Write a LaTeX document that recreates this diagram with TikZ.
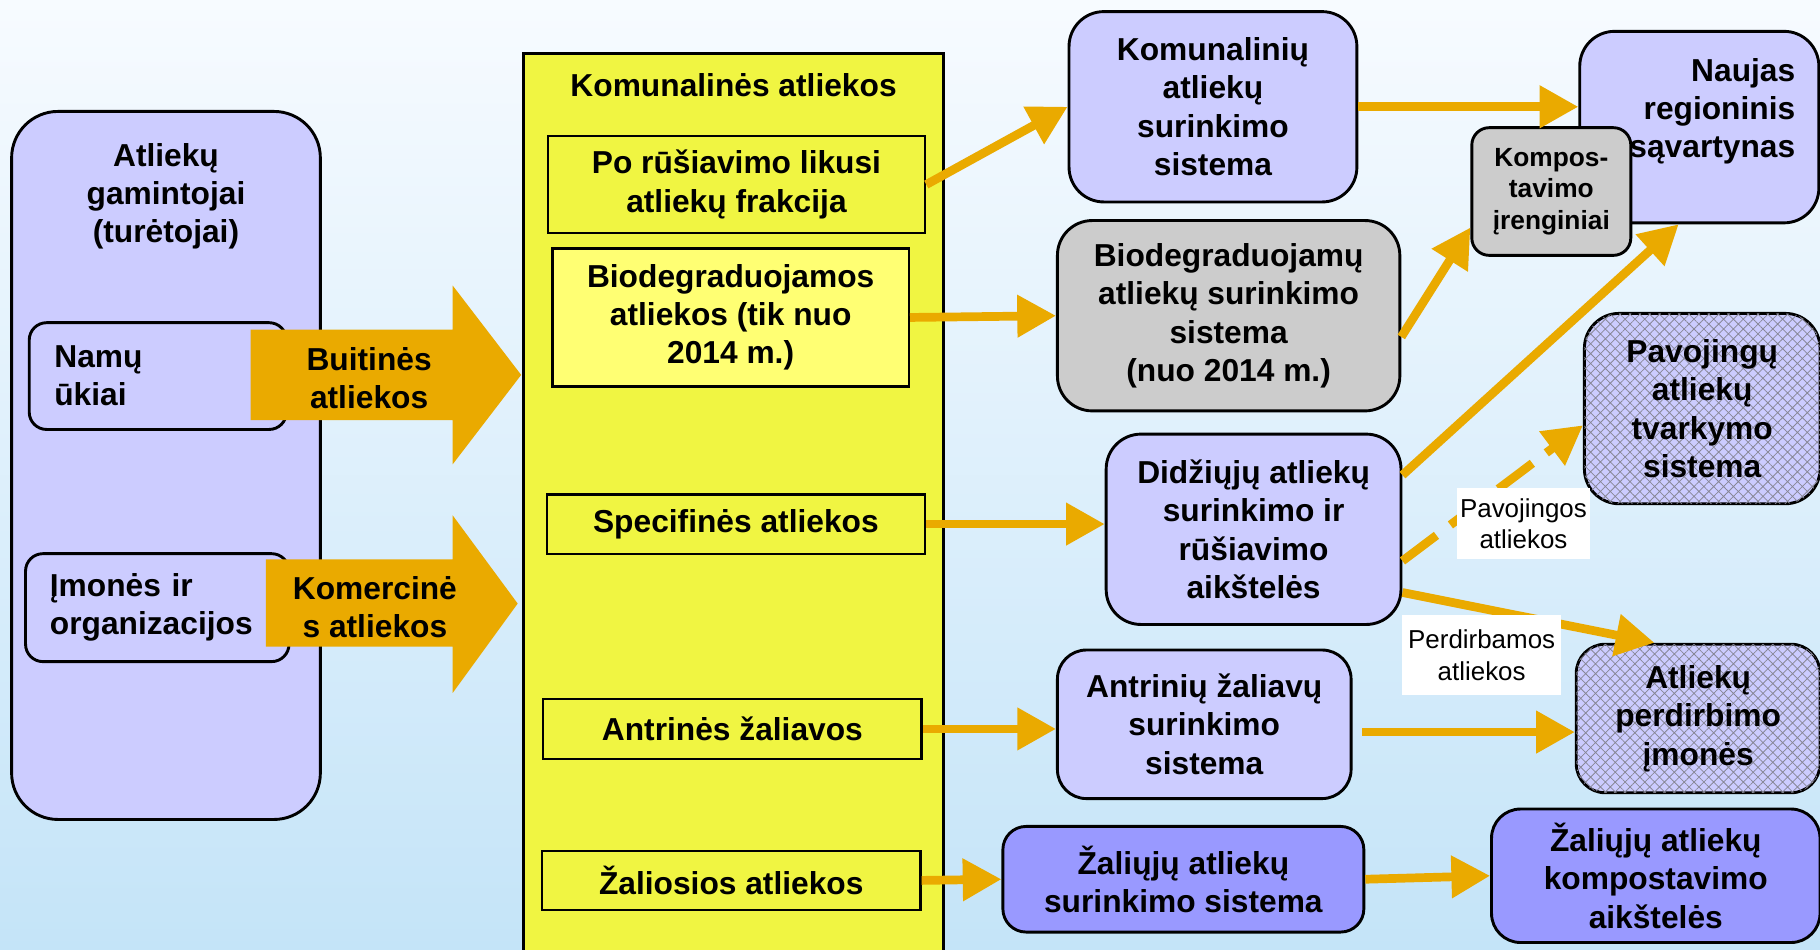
\documentclass[tikz,border=0pt]{standalone}
\usepackage{fontspec}
\setmainfont{Liberation Sans}
\usetikzlibrary{arrows.meta,patterns.meta}
\definecolor{lav}{RGB}{204,204,255}
\definecolor{peri}{RGB}{153,153,255}
\definecolor{pilka}{RGB}{204,204,204}
\definecolor{geltona}{RGB}{240,245,66}
\definecolor{sviesigelt}{RGB}{255,255,115}
\definecolor{auksas}{RGB}{234,170,0}
\definecolor{fonas}{RGB}{196,228,248}
\definecolor{fonasv}{RGB}{247,251,255}
\definecolor{tinklospalva}{RGB}{135,135,150}
\begin{document}
\begin{tikzpicture}[x=0.6pt,y=-0.6pt]
      \tikzstyle{txt}=[font=\fontsize{16.4}{19.8}\selectfont\bfseries, align=center, inner sep=0pt]
      \tikzstyle{box}=[txt, draw, line width=1.5pt, rounded corners=18pt, fill=lav]
      \tikzstyle{ybox}=[txt, draw, line width=1.2pt, fill=geltona]
      \tikzstyle{tinklas}=[postaction={pattern={Hatch[angle=45,distance=3.6pt,line width=0.4pt]}, pattern color=tinklospalva}]
      \tikzstyle{flow}=[draw=auksas, line width=4.5pt, -{Triangle[length=20pt,width=21pt]}]
      \tikzstyle{note}=[fill=white, font=\fontsize{13.4}{16.2}\selectfont, align=center, inner sep=0pt]
        \useasboundingbox (0,0) rectangle (1568,818);
        \shade[top color=fonasv, bottom color=fonas] (0,0) rectangle (1568,818);
        \node[box, rounded corners=24pt, minimum width=159.6pt, minimum height=366pt] (gam) at (143,401) {};
        \node[txt] (gamt) at (143,169) {Atliekų\\gamintojai\\(turėtojai)};
        \node[box, rounded corners=9pt, align=left, inner xsep=13pt, text width=107pt, minimum height=55.2pt] (namu) at (136,324) {Namų\\ūkiai};
        \node[box, rounded corners=9pt, align=left, inner xsep=12.6pt, text width=111pt, minimum height=55.8pt] (imon) at (135.5,523.5) {Įmonės ir\\organizacijos};
        \fill[auksas] (216,284) -- (390,284) -- (390,246) -- (449,323) -- (390,400) -- (390,362) -- (216,362) -- cycle;
        \node[txt] (buit) at (318,326) {Buitinės\\atliekos};
        \fill[auksas] (229,482) -- (390,482) -- (390,444) -- (446,520) -- (390,597) -- (390,557) -- (229,557) -- cycle;
        \node[txt] (kmrc) at (323,523) {Komercinė\\s atliekos};
        \node[ybox, line width=1.5pt, minimum width=217.2pt, minimum height=470.4pt] (kb) at (632,438) {};
        \node[txt] (kbt) at (632,73) {Komunalinės atliekos};
        \node[ybox, minimum width=195pt, minimum height=50.4pt] (po) at (634.5,159) {Po rūšiavimo likusi\\atliekų frakcija};
        \node[ybox, fill=sviesigelt, minimum width=184.2pt, minimum height=71.4pt] (bio) at (629.5,273.5) {Biodegraduojamos\\atliekos (tik nuo\\2014 m.)};
        \node[ybox, minimum width=195.6pt, minimum height=30.6pt] (spec) at (634,451.5) {Specifinės atliekos};
        \node[ybox, minimum width=195.6pt, minimum height=31.2pt] (antr) at (631,628) {Antrinės žaliavos};
        \node[ybox, minimum width=195.6pt, minimum height=30.6pt] (zal) at (630,758.5) {Žaliosios atliekos};
        \node[box, minimum width=148.8pt, minimum height=98.4pt] (kom) at (1045,92) {Komunalinių\\atliekų\\surinkimo\\sistema};
        \node[box, fill=pilka, minimum width=177pt, minimum height=98.4pt] (biod) at (1058.5,272) {Biodegraduojamų\\atliekų surinkimo\\sistema\\(nuo 2014 m.)};
        \node[box, minimum width=152.4pt, minimum height=98.4pt] (did) at (1080,456) {Didžiųjų atliekų\\surinkimo ir\\rūšiavimo\\aikštelės};
        \node[box, rounded corners=15pt, minimum width=151.8pt, minimum height=76.8pt] (antrs) at (1037.5,624) {Antrinių žaliavų\\surinkimo\\sistema};
        \node[box, fill=peri, rounded corners=12pt, minimum width=186.6pt, minimum height=54.6pt] (zals) at (1019.5,757.5) {Žaliųjų atliekų\\surinkimo sistema};
        \node[box, minimum width=123.6pt, minimum height=99pt] (naujas) at (1464,109.5) {};
        \node[txt, align=right, anchor=east] (naujast) at (1547,96) {Naujas\\regioninis\\sąvartynas};
        \node[box, fill=pilka, rounded corners=9pt, font=\fontsize{13.6}{16.2}\selectfont\bfseries, minimum width=82.2pt, minimum height=66pt] (komp) at (1336.5,165) {Kompos-\\tavimo\\įrenginiai};
        \node[box, tinklas, minimum width=121.8pt, minimum height=98.4pt] (pav) at (1466.5,352) {Pavojingų\\atliekų\\tvarkymo\\sistema};
        \node[box, tinklas, rounded corners=15pt, minimum width=126pt, minimum height=76.8pt] (perd) at (1463,619) {Atliekų\\perdirbimo\\įmonės};
        \node[box, fill=peri, rounded corners=15pt, minimum width=169.8pt, minimum height=69pt] (zalk) at (1426.5,754.5) {Žaliųjų atliekų\\kompostavimo\\aikštelės};
        \draw[flow] (po.east) -- (kom.west);
        \draw[flow] (bio.east) -- (biod.west);
        \draw[flow] (spec.east) -- (spec.east -| did.west);
        \draw[flow] (antr.east) -- (antr.east -| antrs.west);
        \draw[flow] (zal.east) -- (zals.west);
        \draw[flow] (kom.east) -- (kom.east -| naujas.west);
        \draw[flow] (biod.-7) -- (komp.204);
        \draw[flow] (did.20) -- (naujas.-102);
        \draw[flow, dash pattern=on 22pt off 9pt] (did.-12) -- (pav.188);
        \draw[flow] (did.-23) -- (perd.120);
        \draw[flow, shorten <=5pt] (antrs.-3) -- (antrs.-3 -| perd.west);
        \draw[flow] (zals.east) -- (zalk.west);
        \node[note, minimum width=69pt, minimum height=37.2pt] (pavl) at (1312.5,451) {Pavojingos\\atliekos};
        \node[note, minimum width=82.2pt, minimum height=41.4pt] (perl) at (1276.5,564.5) {Perdirbamos\\atliekos};
\end{tikzpicture}
\end{document}
